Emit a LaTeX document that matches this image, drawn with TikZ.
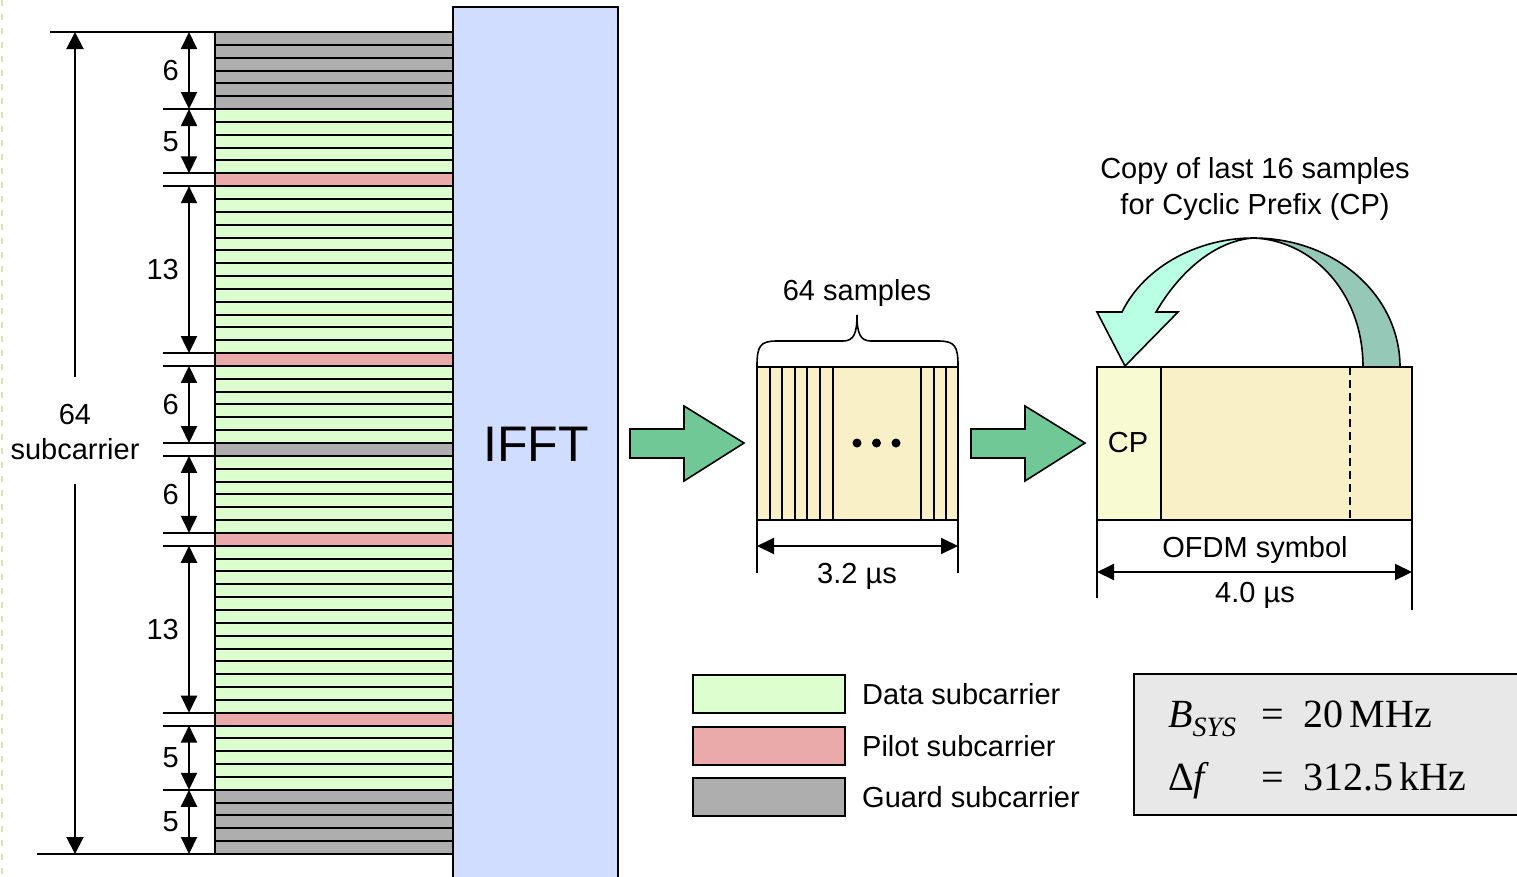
\documentclass[tikz,border=0pt]{standalone}
\usepackage{fontspec}
\setmainfont{Liberation Sans}
\newfontfamily\tms{Liberation Serif}
\usetikzlibrary{arrows.meta}
\definecolor{colG}{RGB}{174,174,174}
\definecolor{colD}{RGB}{221,255,208}
\definecolor{colP}{RGB}{234,170,170}
\definecolor{ifftblue}{RGB}{208,221,255}
\definecolor{sampcol}{RGB}{250,240,200}
\definecolor{cpcol}{RGB}{248,250,210}
\definecolor{blockgreen}{RGB}{112,200,150}
\definecolor{darkteal}{RGB}{150,200,184}
\definecolor{lightcyan}{RGB}{185,255,230}
\definecolor{parambg}{RGB}{232,232,232}
\definecolor{edgebeige}{RGB}{225,220,185}
\newcommand\fsz[2]{\fontsize{#1}{#2}\selectfont}
\begin{document}
\begin{tikzpicture}[x=1pt,y=-1pt,
  lw/.style={line width=2pt},
  thinlw/.style={line width=1.6pt},
  dimarr/.style={line width=2pt,{Triangle[width=16pt,length=17pt]}-{Triangle[width=16pt,length=17pt]}},
  onearr/.style={line width=2pt,-{Triangle[width=17pt,length=17pt]}},
  txt/.style={inner sep=0pt,font=\fsz{29}{36}},
  legbox/.style={draw,lw,inner sep=0pt,minimum width=152pt,minimum height=38pt},
  blockarrow/.style={thinlw,fill=blockgreen,line join=miter}
]
\useasboundingbox (0,0) rectangle (1517,876);
% faint page edge
\draw[edgebeige,line width=2pt,dash pattern=on 6pt off 8pt] (1.5,0) -- (1.5,876);

% IFFT block
\draw[lw,fill=ifftblue] (453,7) rectangle (618,890);
\node[inner sep=0pt] (ifft) at (536,444) {\fsz{50}{50}IFFT};

% subcarrier stack
\foreach \t [count=\i from 0] in {G,G,G,G,G,G,D,D,D,D,D,P,D,D,D,D,D,D,D,D,D,D,D,D,D,P,D,D,D,D,D,D,G,D,D,D,D,D,D,P,D,D,D,D,D,D,D,D,D,D,D,D,D,P,D,D,D,D,D,G,G,G,G,G}
  \draw[lw,fill=col\t] (215,{32+\i*12.84375}) rectangle (453,{32+(\i+1)*12.84375});

% extension lines
\foreach \b in {6,11,12,25,26,32,33,39,40,53,54,59}
  \draw[lw] (163,{32+\b*12.84375}) -- (215,{32+\b*12.84375});
\draw[lw] (50,32) -- (215,32);
\draw[lw] (37,854) -- (215,854);

% group dimension arrows
\foreach \a/\b/\n in {0/6/6,6/11/5,12/25/13,26/32/6,33/39/6,40/53/13,54/59/5,59/64/5}{
  \draw[dimarr] (189,{32+\a*12.84375}) -- (189,{32+\b*12.84375});
  \node[txt,anchor=east] (grp\a) at (179,{32+(\a+\b)/2*12.84375}) {\n};
}

% total 64 arrow
\node[txt,align=center,font=\fsz{29}{35}] (tot) at (75,432) {64\\subcarrier};
\coordinate (totTop) at (75,32);
\coordinate (totBot) at (75,854);
\coordinate (gapA) at (75,377);
\coordinate (gapB) at (75,484);
\draw[onearr] (gapA) -- (totTop);
\draw[onearr] (gapB) -- (totBot);

% block arrows
\draw[blockarrow] (630,429) -- (684,429) -- (684,406) -- (744,443) -- (684,481) -- (684,458) -- (630,458) -- cycle;
\draw[blockarrow] (971,429) -- (1025,429) -- (1025,406) -- (1085,443) -- (1025,481) -- (1025,458) -- (971,458) -- cycle;

% 64 samples block
\node[draw,lw,fill=sampcol,inner sep=0pt,outer sep=0pt,minimum width=201pt,minimum height=153pt] (samp) at (857.5,443.5) {};
\foreach \x in {769.5,782,794.7,807.3,820,833,921,933.5,946}
  \draw[lw] (\x,367) -- (\x,520);
\foreach \x in {857,876.5,896}
  \fill (\x,443) circle (4.5);
% brace
\draw[thinlw] (757,366) .. controls (757,346) and (760,341) .. (777,341) -- (843,341)
  .. controls (854,341) and (857,333) .. (857,315)
  .. controls (857,333) and (860,341) .. (871,341) -- (938,341)
  .. controls (955,341) and (958,346) .. (958,366);
\node[txt] (sampl) at (857,293) {64 samples};
% 3.2 us dimension
\draw[lw] (757,520) -- (757,573);
\draw[lw] (958,520) -- (958,573);
\draw[dimarr] (757,546) -- (958,546);
\node[txt] (t32) at (857,576) {3.2 µs};

% OFDM symbol
\fill[sampcol] (1097,367) rectangle (1412,520);
\fill[cpcol] (1097,367) rectangle (1161,520);
\node[draw,lw,inner sep=0pt,outer sep=0pt,minimum width=315pt,minimum height=153pt] (ofdm) at (1254.5,443.5) {};
\draw[lw] (1161,367) -- (1161,520);
\draw[lw,dash pattern=on 8pt off 5pt] (1350,367) -- (1350,520);
\node[txt] (cp) at (1128,443) {CP};
\draw[lw] (1097,520) -- (1097,598);
\draw[lw] (1412,520) -- (1412,610);
\draw[dimarr] (1097,572) -- (1412,572);
\node[txt] (ofdml) at (1255,550) {OFDM symbol};
\node[txt] (t40) at (1255,595) {4.0 µs};

% curved copy arrow
\draw[thinlw,fill=darkteal] (1253,238) .. controls (1336,238) and (1400,296) .. (1400,367)
  -- (1363,367) .. controls (1363,292) and (1312,240) .. (1253,238) -- cycle;
\draw[thinlw,fill=lightcyan,line join=miter] (1156,312) .. controls (1180,271) and (1215,241) .. (1253,238)
  .. controls (1200,238) and (1145,265) .. (1122,312) -- (1097,312) -- (1125,366) -- (1178,312) -- cycle;
\node[txt,align=center] (copy) at (1255,189) {Copy of last 16 samples\\for Cyclic Prefix (CP)};

% legend
\node[legbox,fill=colD] (legD) at (769,694) {};
\node[legbox,fill=colP] (legP) at (769,745.5) {};
\node[legbox,fill=colG] (legG) at (769,797) {};
\node[txt,anchor=west] (legDt) at (862,694) {Data subcarrier};
\node[txt,anchor=west] (legPt) at (862,746) {Pilot subcarrier};
\node[txt,anchor=west] (legGt) at (862,797) {Guard subcarrier};

% parameter box
\draw[lw,fill=parambg] (1134,674) rectangle (1530,815);
\node[inner sep=0pt,anchor=base west] (bsys) at (1168,727) {\tms\fsz{40}{40}\itshape B\raisebox{-9pt}{\fsz{28}{28}SYS}};
\node[inner sep=0pt,anchor=base] (eq1) at (1273,727) {\tms\fsz{40}{40}=};
\node[inner sep=0pt,anchor=base west] (v1) at (1303,727) {\tms\fsz{40}{40}20\,MHz};
\node[inner sep=0pt,anchor=base west] (df) at (1168,790) {\tms\fsz{40}{40}Δ\textit{f}};
\node[inner sep=0pt,anchor=base] (eq2) at (1273,790) {\tms\fsz{40}{40}=};
\node[inner sep=0pt,anchor=base west] (v2) at (1303,790) {\tms\fsz{40}{40}312.5\,kHz};
\end{tikzpicture}
\end{document}
